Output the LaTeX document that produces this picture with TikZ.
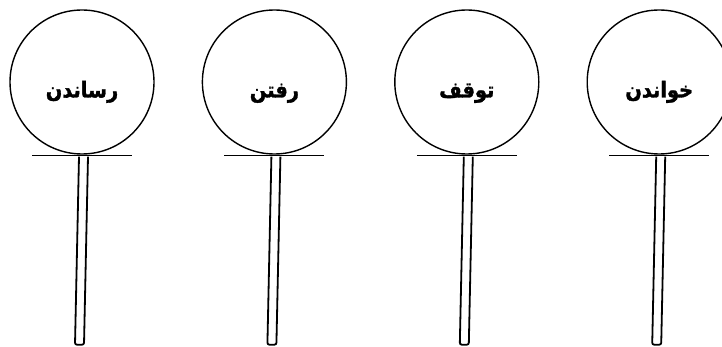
\documentclass[tikz,border=0pt]{standalone}
\usepackage{fontspec}
\newfontfamily\arabicfont[Script=Arabic,FakeStretch=0.88,FakeBold=1.5]{DejaVu Sans}
\TeXXeTstate=1
\usetikzlibrary{positioning,calc}

\begin{document}
\begin{tikzpicture}[
x=1pt, y=-1pt,
halqe/.style={
circle,
draw,
line width=1.4pt,
minimum size=144pt,
inner sep=0pt,
text height=31pt,
text depth=0pt,
font=\arabicfont\bfseries\fontsize{22}{26}\selectfont
},
khat/.style={line width=1.6pt},
paye/.style={line width=1.8pt, rounded corners=2pt}
]
\useasboundingbox (0,0) rectangle (722,347);

\node[halqe] (rasandan) at (82,82) {\beginR رساندن\endR};
\node[halqe, right=47pt of rasandan] (raftan) {\beginR رفتن\endR};
\node[halqe, right=47pt of raftan] (tavaghof) {\beginR توقف\endR};
\node[halqe, right=47pt of tavaghof] (khandan) {\beginR خواندن\endR};

% zamin zire har halqe
\draw[khat] ($(rasandan.south)+(-50,1)$) -- ($(rasandan.south)+(50,1)$);
\draw[khat] ($(raftan.south)+(-50,1)$) -- ($(raftan.south)+(50,1)$);
\draw[khat] ($(tavaghof.south)+(-50,1)$) -- ($(tavaghof.south)+(50,1)$);
\draw[khat] ($(khandan.south)+(-50,1)$) -- ($(khandan.south)+(50,1)$);

% paye
\draw[paye] ($(rasandan.south)+(-3,2)$) -- ($(rasandan.south)+(-7,190)$) -- ($(rasandan.south)+(2,190)$) -- ($(rasandan.south)+(6,2)$);
\draw[paye] ($(raftan.south)+(-3,2)$) -- ($(raftan.south)+(-7,190)$) -- ($(raftan.south)+(2,190)$) -- ($(raftan.south)+(6,2)$);
\draw[paye] ($(tavaghof.south)+(-3,2)$) -- ($(tavaghof.south)+(-7,190)$) -- ($(tavaghof.south)+(2,190)$) -- ($(tavaghof.south)+(6,2)$);
\draw[paye] ($(khandan.south)+(-3,2)$) -- ($(khandan.south)+(-7,190)$) -- ($(khandan.south)+(2,190)$) -- ($(khandan.south)+(6,2)$);

\end{tikzpicture}
\end{document}
